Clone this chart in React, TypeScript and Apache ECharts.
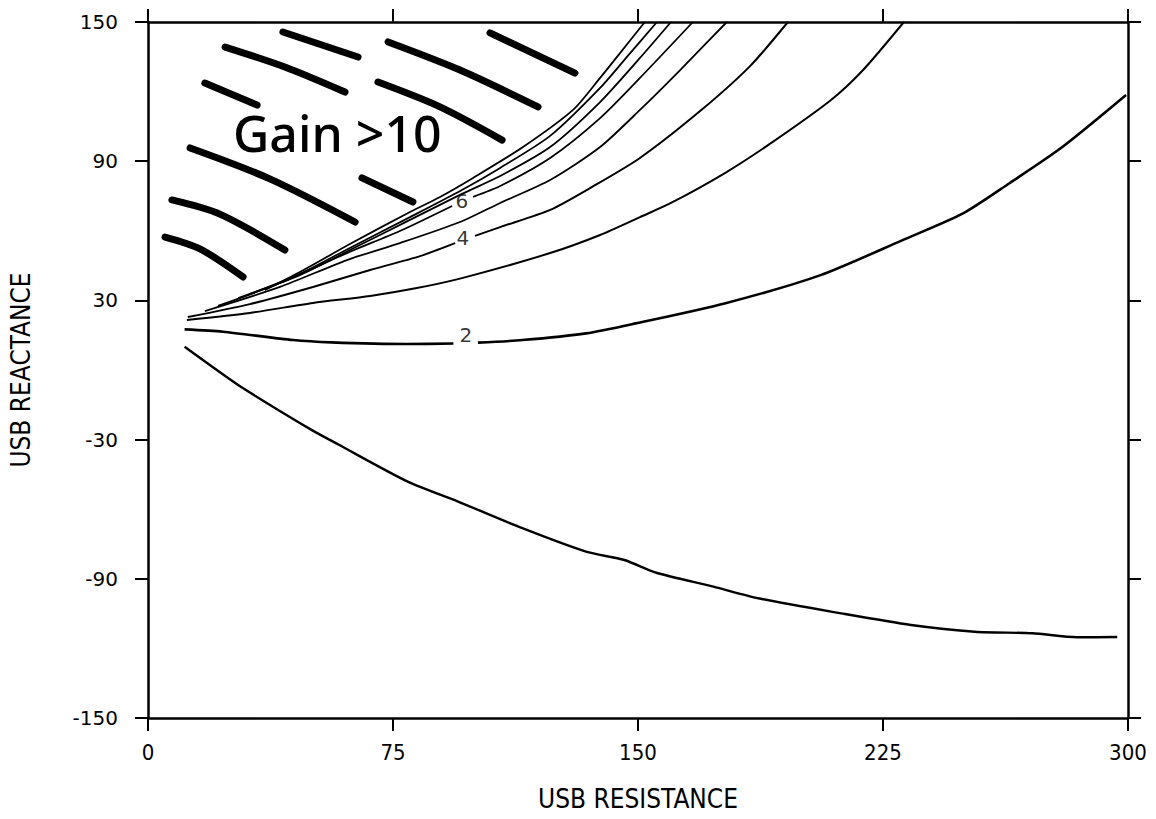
import React, { useEffect, useRef } from "react";
import * as echarts from "echarts";

// Axis ranges / tick spacing
const X_MIN = 0;
const X_MAX = 300;
const X_INTERVAL = 75;
const Y_MIN = -150;
const Y_MAX = 150;
const Y_INTERVAL = 60;

const X_TITLE = "USB RESISTANCE";
const Y_TITLE = "USB REACTANCE";
const ANNOTATION = "Gain >10";

const GAP = ["-", "-"];

// Contour levels (USB resistance, USB reactance)
const level1 = [
  [11.2, 10.0], [26.8, -5.7], [36.6, -14.4], [50.2, -25.9], [58.0, -31.9],
  [79.5, -48.1], [95.1, -56.8], [114.6, -68.2], [134.1, -78.3], [145.8, -81.9],
  [155.6, -87.4], [173.1, -93.4], [186.8, -98.4], [212.2, -104.9], [233.6, -109.9],
  [253.1, -112.8], [270.7, -113.5], [284.4, -115.2], [296.7, -115.1],
];
const level2 = [
  [11.2, 17.5], [22.9, 16.5], [44.4, 12.9], [56.1, 11.9], [79.5, 11.2], [93.5, 11.4],
  GAP,
  [101.0, 11.8], [114.6, 12.9], [134.1, 15.8], [149.3, 20.1], [176.5, 28.7],
  [205.9, 40.9], [231.0, 56.0], [249.5, 67.5], [263.7, 80.5], [280.0, 96.2], [299.4, 118.5],
];
const level3 = [
  [11.9, 21.6], [31.2, 24.6], [50.5, 28.9], [68.0, 31.9], [82.3, 35.3], [96.4, 39.7],
  [123.1, 50.4], [138.4, 58.2], [150.6, 65.9], [160.1, 72.0], [176.6, 84.9],
  [190.7, 97.8], [209.1, 116.4], [218.9, 129.3], [231.4, 150],
];
const level4 = [
  [12.2, 22.8], [31.2, 28.4], [50.5, 35.8], [68.0, 43.1], [83.3, 49.1], [94.0, 54.7],
  GAP,
  [100.1, 57.8], [107.8, 61.6], [123.1, 69.0], [135.3, 78.4], [150.6, 91.4],
  [169.0, 111.6], [184.3, 131.0], [195.9, 150],
];
const level5 = [
  [17.4, 25.4], [40.4, 35.8], [60.9, 47.4], [77.1, 54.7], [95.5, 63.8], [107.8, 72.0],
  [123.1, 81.9], [138.4, 96.1], [150.6, 112.1], [162.9, 129.3], [177.2, 150],
];
const level6 = [
  [21.4, 27.6], [40.4, 37.5], [60.9, 50.4], [77.1, 59.9], [93.1, 70.7],
  GAP,
  [99.5, 74.6], [107.8, 79.3], [123.1, 91.4], [138.4, 108.6], [150.6, 125.9], [166.8, 150],
];
const level7 = [
  [27.6, 31.0], [46.5, 40.9], [61.8, 51.7], [80.2, 64.7], [96.1, 75.9], [107.8, 83.6],
  [123.1, 96.1], [138.4, 115.5], [150.6, 134.5], [160.1, 150],
];
const level8 = [
  [31.2, 32.8], [46.5, 41.4], [61.8, 52.6], [80.2, 65.9], [96.1, 77.6], [107.8, 87.1],
  [123.1, 100.9], [138.4, 121.6], [147.6, 136.6], [155.8, 150],
];
const level9 = [
  [35.8, 34.5], [46.5, 42.2], [61.8, 54.3], [80.2, 68.1], [89.4, 74.6], [99.5, 82.8],
  [114.8, 96.1], [130.1, 112.1], [138.4, 125.9], [144.5, 136.6], [152.1, 150],
];

const contours = [level1, level2, level3, level4, level5, level6, level7, level8, level9];
const contourWidths = [2.4, 2.6, 2, 2, 1.8, 1.8, 1.8, 1.8, 1.8];

// Contour value labels: [x, y, text]
const contourLabels = [
  [97.3, 15.1, "2"],
  [96.4, 56.9, "4"],
  [96.1, 72.8, "6"],
];

// Hand-drawn hatch strokes marking the "Gain > 10" region
const hatchStrokes = [
  [[41.3, 145.7], [64.3, 134.9]],
  [[23.6, 139.2], [41.9, 130.6], [60.3, 119.8]],
  [[73.5, 141.4], [95.5, 129.3], [119.4, 113.4]],
  [[104.7, 145.3], [130.7, 128.0]],
  [[17.4, 123.7], [33.4, 114.2]],
  [[70.4, 124.1], [89.4, 113.4], [108.4, 99.1]],
  [[12.9, 95.7], [37.3, 82.4], [63.4, 63.8]],
  [[65.5, 82.8], [81.1, 72.4]],
  [[7.3, 73.3], [22.0, 67.2], [41.9, 51.7]],
  [[5.2, 57.3], [15.9, 52.2], [29.1, 40.1]],
];

const NARROW = '"Liberation Sans Narrow", "DejaVu Sans Condensed", "Liberation Sans", sans-serif';
const WIDE = '"DejaVu Sans", "Liberation Sans", sans-serif';

export default function App() {
  const ref = useRef<HTMLDivElement>(null);

  useEffect(() => {
    if (!ref.current) return;
    const chart = echarts.init(ref.current, null, { renderer: "svg" });

    const axisLine = { show: true, onZero: false, lineStyle: { color: "#000", width: 2.5 } };
    const tick = { show: true, inside: false, length: 13, lineStyle: { color: "#000", width: 2 } };

    const contourSeries = contours.map((d, i) => ({
      type: "line",
      data: d,
      symbol: "none",
      smooth: 0.25,
      connectNulls: false,
      lineStyle: { color: "#000", width: contourWidths[i] },
      silent: true,
      z: 3,
    }));

    const hatchSeries = hatchStrokes.map((d) => ({
      type: "line",
      data: d,
      symbol: "none",
      smooth: 0.3,
      lineStyle: { color: "#000", width: 7, cap: "round" },
      silent: true,
      z: 2,
    }));

    const option = {
      animation: false,
      backgroundColor: "#fff",
      grid: { left: 148, right: 28, top: 22, bottom: 101, containLabel: false },
      xAxis: [
        {
          type: "value",
          min: X_MIN,
          max: X_MAX,
          interval: X_INTERVAL,
          position: "bottom",
          axisLine,
          axisTick: tick,
          splitLine: { show: false },
          axisLabel: { margin: 23, fontSize: 22, color: "#000", fontFamily: NARROW },
          name: X_TITLE,
          nameLocation: "middle",
          nameGap: 68,
          nameTextStyle: { fontSize: 26, color: "#000", fontFamily: NARROW },
        },
        {
          type: "value",
          min: X_MIN,
          max: X_MAX,
          interval: X_INTERVAL,
          position: "top",
          axisLine,
          axisTick: tick,
          splitLine: { show: false },
          axisLabel: { show: false },
        },
      ],
      yAxis: [
        {
          type: "value",
          min: Y_MIN,
          max: Y_MAX,
          interval: Y_INTERVAL,
          position: "left",
          axisLine,
          axisTick: tick,
          splitLine: { show: false },
          axisLabel: { margin: 30, fontSize: 20, color: "#000", fontFamily: WIDE },
          name: Y_TITLE,
          nameLocation: "middle",
          nameGap: 114,
          nameTextStyle: { fontSize: 26, color: "#000", fontFamily: NARROW },
        },
        {
          type: "value",
          min: Y_MIN,
          max: Y_MAX,
          interval: Y_INTERVAL,
          position: "right",
          axisLine,
          axisTick: tick,
          splitLine: { show: false },
          axisLabel: { show: false },
        },
      ],
      series: [
        ...hatchSeries,
        ...contourSeries,
        {
          type: "scatter",
          data: contourLabels,
          symbolSize: 1,
          itemStyle: { color: "rgba(0,0,0,0)" },
          silent: true,
          z: 4,
          label: {
            show: true,
            position: "inside",
            formatter: (p: any) => p.data[2],
            fontSize: 20,
            color: "#000",
            textBorderWidth: 0,
            textBorderColor: "transparent",
            fontFamily: WIDE,
          },
        },
      ],
      graphic: [
        {
          type: "text",
          left: 233,
          top: 108,
          style: {
            text: ANNOTATION,
            fontSize: 50,
            fontWeight: 500,
            fontFamily: '"Noto Sans", "Open Sans", sans-serif',
            fill: "#000",
          },
        },
      ],
    };

    chart.setOption(option as any);
    return () => chart.dispose();
  }, []);

  return (
    <div
      ref={ref}
      style={{ position: "absolute", left: 0, top: 0, width: 1156, height: 819, background: "#fff" }}
    />
  );
}
